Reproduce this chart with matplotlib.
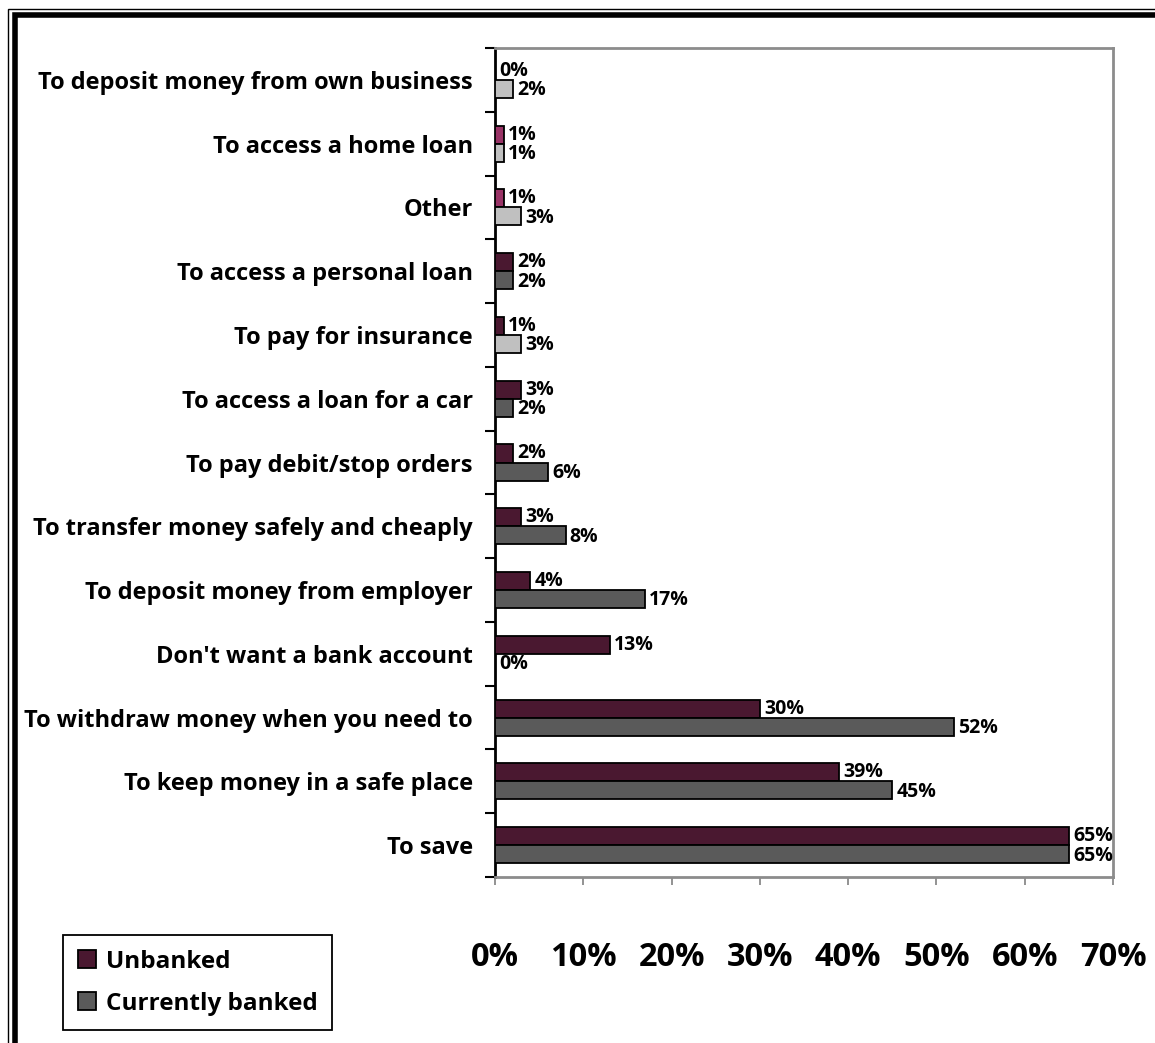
import matplotlib
matplotlib.use("Agg")
import matplotlib.pyplot as plt
from matplotlib.patches import Patch, Rectangle
import numpy as np

plt.rcParams['font.family'] = ['Open Sans', 'DejaVu Sans']
plt.rcParams['font.weight'] = 'bold'

# Reasons for having a bank account, listed top to bottom
categories = [
    "To deposit money from own business",
    "To access a home loan",
    "Other",
    "To access a personal loan",
    "To pay for insurance",
    "To access a loan for a car",
    "To pay debit/stop orders",
    "To transfer money safely and cheaply",
    "To deposit money from employer",
    "Don't want a bank account",
    "To withdraw money when you need to",
    "To keep money in a safe place",
    "To save",
]
unbanked = [0, 1, 1, 2, 1, 3, 2, 3, 4, 13, 30, 39, 65]
banked = [2, 1, 3, 2, 3, 2, 6, 8, 17, 0, 52, 45, 65]
# bars drawn in the lighter shade
unbanked_light = [False, True, True, False, False, False, False, False, False, False, False, False, False]
banked_light = [True, True, True, False, True, False, False, False, False, False, False, False, False]
xticks = [0, 10, 20, 30, 40, 50, 60, 70]

C_UNB = "#4a1830"
C_UNB_LIGHT = "#993366"
C_BNK = "#5a5a5a"
C_BNK_LIGHT = "#c0c0c0"

W, H = 1155, 1043
fig = plt.figure(figsize=(W / 100, H / 100), dpi=100)

# double frame around the chart
fig.patches.append(Rectangle((8 / W, -0.1), 1.2, 1 - 9 / H + 0.1, transform=fig.transFigure,
                             fill=False, edgecolor="black", linewidth=1.0))
fig.patches.append(Rectangle((14.5 / W, -0.1), 1.2, 1 - 15 / H + 0.1, transform=fig.transFigure,
                             fill=False, edgecolor="black", linewidth=4.0))

ax = fig.add_axes([495 / W, 1 - 877 / H, (1113 - 495) / W, (877 - 48) / H])

n = len(categories)
pos = np.arange(n)[::-1].astype(float)  # first category at top
bh = 0.283

ucols = [C_UNB_LIGHT if f else C_UNB for f in unbanked_light]
bcols = [C_BNK_LIGHT if f else C_BNK for f in banked_light]

ax.barh(pos + bh / 2, unbanked, height=bh, color=ucols, edgecolor="black", linewidth=1.3, zorder=3)
ax.barh(pos - bh / 2, banked, height=bh, color=bcols, edgecolor="black", linewidth=1.3, zorder=3)

for p, v in zip(pos, unbanked):
    ax.annotate(f"{v}%", (v, p + bh / 2), xytext=(3, 0), textcoords="offset points",
                ha="left", va="center", fontsize=14, fontweight="bold")
for p, v in zip(pos, banked):
    ax.annotate(f"{v}%", (v, p - bh / 2), xytext=(3, -1), textcoords="offset points",
                ha="left", va="center", fontsize=14, fontweight="bold")

ax.set_xlim(0, 70)
ax.set_ylim(-0.5, n - 0.5)
ax.set_xticks(xticks)
ax.set_xticklabels([f"{t}%" for t in xticks], fontsize=23.5, fontweight="bold")
ax.tick_params(axis="x", direction="out", length=6, width=1.2, color="#808080", pad=40)

ax.set_yticks(pos)
ax.set_yticklabels(categories, fontsize=17, fontweight="bold")
ax.tick_params(axis="y", which="major", length=0, pad=16)
ax.set_yticks(np.arange(n + 1) - 0.5, minor=True)
ax.tick_params(axis="y", which="minor", direction="out", length=7, width=1.5, color="black")

ax.spines["left"].set_color("black")
ax.spines["left"].set_linewidth(2)
for s in ("top", "right", "bottom"):
    ax.spines[s].set_color("#8c8c8c")
    ax.spines[s].set_linewidth(2)

handles = [Patch(facecolor=C_UNB, edgecolor="black", linewidth=1.3, label="Unbanked"),
           Patch(facecolor=C_BNK, edgecolor="black", linewidth=1.3, label="Currently banked")]
leg = fig.legend(handles=handles, loc="upper left", bbox_to_anchor=(63 / W, 1 - 935 / H),
                 prop={"size": 17.5, "weight": "bold"}, handlelength=0.75, handleheight=0.75,
                 handletextpad=0.4, labelspacing=0.75, borderpad=0.6, borderaxespad=0,
                 fancybox=False, framealpha=1, edgecolor="black")
leg.get_frame().set_linewidth(1.3)

fig.savefig("out.png", dpi=100, facecolor="white")
